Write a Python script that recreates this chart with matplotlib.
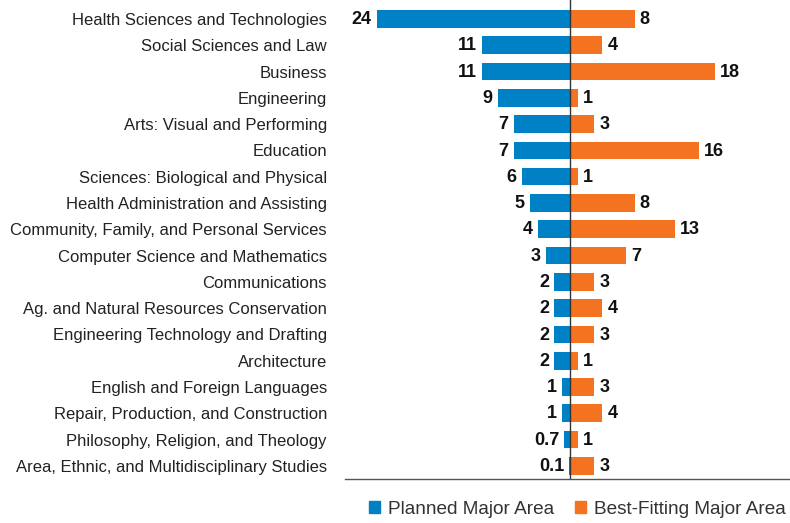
import matplotlib.pyplot as plt
from matplotlib.patches import Patch

categories = [
    "Health Sciences and Technologies",
    "Social Sciences and Law",
    "Business",
    "Engineering",
    "Arts: Visual and Performing",
    "Education",
    "Sciences: Biological and Physical",
    "Health Administration and Assisting",
    "Community, Family, and Personal Services",
    "Computer Science and Mathematics",
    "Communications",
    "Ag. and Natural Resources Conservation",
    "Engineering Technology and Drafting",
    "Architecture",
    "English and Foreign Languages",
    "Repair, Production, and Construction",
    "Philosophy, Religion, and Theology",
    "Area, Ethnic, and Multidisciplinary Studies",
]
planned = [24, 11, 11, 9, 7, 7, 6, 5, 4, 3, 2, 2, 2, 2, 1, 1, 0.7, 0.1]
best_fit = [8, 4, 18, 1, 3, 16, 1, 8, 13, 7, 3, 4, 3, 1, 3, 4, 1, 3]

blue = "#0081c6"
orange = "#f47321"

plt.rcParams['font.family'] = ['Liberation Sans', 'DejaVu Sans']

fig = plt.figure(figsize=(7.9, 5.23), dpi=100)
ax = fig.add_axes([345 / 790, 44 / 523, 445 / 790, 479 / 523])

y = list(range(len(categories)))
ax.barh(y, [-v for v in planned], height=0.67, color=blue)
ax.barh(y, best_fit, height=0.67, color=orange)

# value labels
for i, (p, b) in enumerate(zip(planned, best_fit)):
    ax.annotate(f"{p:g}", (-p, i), xytext=(-3.6, -0.5), textcoords="offset points",
                ha="right", va="center", fontsize=13, fontweight="bold", color="#111111")
    ax.annotate(f"{b:g}", (b, i), xytext=(3.6, -0.5), textcoords="offset points",
                ha="left", va="center", fontsize=13, fontweight="bold", color="#111111")

ax.axvline(0, color="#333333", linewidth=1)
ax.set_xlim(-27.95, 27.3)
ax.set_ylim(len(categories) - 0.5, -0.72)

ax.set_yticks(y)
ax.set_yticklabels(categories, fontsize=12, color="#222222")
ax.tick_params(axis="y", length=0, pad=13)
ax.set_xticks([])
for s in ["top", "right", "left"]:
    ax.spines[s].set_visible(False)
ax.spines["bottom"].set_color("#555555")
ax.spines["bottom"].set_linewidth(1)

handles = [Patch(color=blue, label="Planned Major Area"),
           Patch(color=orange, label="Best-Fitting Major Area")]
fig.legend(handles=handles, loc="center", bbox_to_anchor=(577 / 790, 1 - 509 / 523),
           ncol=2, frameon=False, fontsize=13.7, handlelength=0.6, handleheight=0.6,
           handletextpad=0.4, columnspacing=1.1, labelcolor="#333333")

fig.savefig("out.png", dpi=100)
